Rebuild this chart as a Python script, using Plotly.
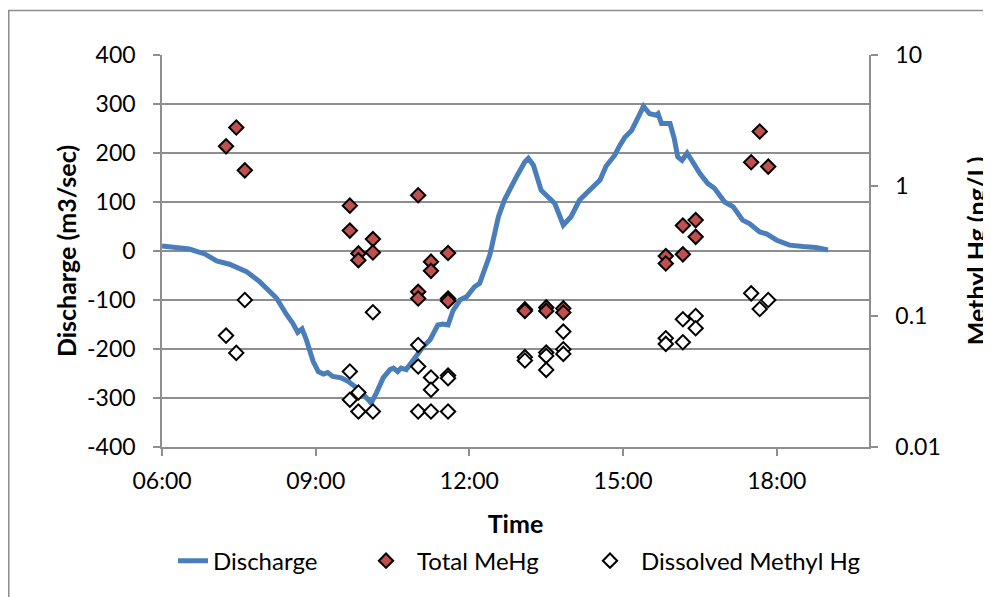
import plotly.graph_objects as go

# ---------------- data ----------------
discharge_time = ["06:00", "06:32", "06:50", "07:04", "07:19", "07:39", "07:54", "08:14", "08:26",
                  "08:33", "08:39", "08:44", "08:49", "08:57", "09:03", "09:09", "09:14", "09:20",
                  "09:30", "09:38", "09:50", "10:05", "10:11", "10:19", "10:27", "10:31", "10:36",
                  "10:40", "10:46", "10:54", "11:06", "11:14", "11:23", "11:29", "11:35", "11:41",
                  "11:49", "11:57", "12:06", "12:12", "12:24", "12:34", "12:41", "12:55", "13:05",
                  "13:09", "13:15", "13:24", "13:34", "13:40", "13:50", "13:59", "14:09", "14:21",
                  "14:33", "14:40", "14:50", "14:56", "15:02", "15:10", "15:16", "15:24", "15:31",
                  "15:39", "15:41", "15:45", "15:55", "16:00", "16:04", "16:09", "16:15", "16:20",
                  "16:30", "16:39", "16:47", "16:59", "17:09", "17:20", "17:28", "17:40", "17:48",
                  "18:00", "18:15", "18:31", "18:46", "19:00"]
discharge = [10, 4, -6, -20, -27, -42, -62, -96, -130,
             -147, -166, -159, -181, -225, -246, -251, -248, -256,
             -259, -266, -282, -310, -290, -259, -242, -239, -246,
             -239, -242, -222, -195, -181, -151, -149, -151, -121,
             -100, -93, -73, -66, -8, 70, 104, 151, 182,
             189, 175, 124, 107, 97, 53, 70, 104, 124,
             145, 173, 195, 215, 232, 246, 266, 295, 280,
             277, 280, 260, 260, 229, 192, 185, 200, 185,
             158, 138, 128, 100, 90, 63, 56, 39, 35,
             22, 12, 9, 7, 2]

total_time = ["07:15", "07:27", "07:37", "09:40", "09:40", "09:50", "09:50", "10:07", "10:07",
              "11:00", "11:00", "11:00", "11:15", "11:15", "11:35", "11:35", "11:35",
              "13:05", "13:05", "13:30", "13:30", "13:50", "13:50",
              "15:50", "15:50", "16:10", "16:10", "16:25", "16:25",
              "17:30", "17:40", "17:50"]
total_mehg = [2.0, 2.79, 1.31, 0.703, 0.453, 0.303, 0.269, 0.390, 0.308,
              0.845, 0.154, 0.137, 0.262, 0.223, 0.305, 0.137, 0.131,
              0.113, 0.110, 0.117, 0.110, 0.115, 0.107,
              0.289, 0.254, 0.496, 0.298, 0.545, 0.406,
              1.51, 2.60, 1.40]

dissolved_time = ["07:15", "07:27", "07:37", "09:40", "09:40", "09:50", "09:50", "10:07", "10:07",
                  "11:00", "11:00", "11:00", "11:15", "11:15", "11:15", "11:35", "11:35", "11:35",
                  "13:05", "13:05", "13:30", "13:30", "13:30", "13:50", "13:50", "13:50",
                  "15:50", "15:50", "16:10", "16:10", "16:25", "16:25",
                  "17:30", "17:40", "17:50"]
dissolved_mehg = [0.0712, 0.0525, 0.1334, 0.0378, 0.0230, 0.0261, 0.0187, 0.1074, 0.0187,
                  0.0604, 0.0413, 0.0187, 0.0340, 0.0274, 0.0187, 0.0352, 0.0336, 0.0187,
                  0.0487, 0.0459, 0.0528, 0.0498, 0.0389, 0.0764, 0.0560, 0.0516,
                  0.0680, 0.0615, 0.0950, 0.0634, 0.1007, 0.0811,
                  0.150, 0.1138, 0.1334]

left_tickvals = [-400, -300, -200, -100, 0, 100, 200, 300, 400]
left_ticktext = ["-400", "-300", "-200", "-100", "0", "100", "200", "300", "400"]
right_tickvals = [0.01, 0.1, 1, 10]
right_ticktext = ["0.01", "0.1", "1", "10"]
x_start, x_end = "06:00", "19:48"

DAY = "2000-01-01 "
def ts(lst):
    return [DAY + t for t in lst]

FONT = "Lato, Carlito, Calibri, sans-serif"
GRID = "#8e8e8e"

# page is offset by the 8px body margin; plot area spans page x 162..869, y 54.5..447.5
ML, MT, PW, PH = 154, 46.5, 707, 393
W, H = 983, 589

fig = go.Figure()
fig.add_trace(go.Scatter(
    x=ts(discharge_time), y=discharge, name="Discharge", mode="lines",
    line=dict(color="#4a7ebb", width=5), yaxis="y", legend="legend"))
fig.add_trace(go.Scatter(
    x=ts(total_time), y=total_mehg, name="Total MeHg", mode="markers",
    marker=dict(symbol="diamond", size=11, color="#c0504d",
                line=dict(color="black", width=2)), yaxis="y2", legend="legend2"))
fig.add_trace(go.Scatter(
    x=ts(dissolved_time), y=dissolved_mehg, name="Dissolved Methyl Hg", mode="markers",
    marker=dict(symbol="diamond", size=11, color="white",
                line=dict(color="black", width=2)), yaxis="y2", legend="legend3"))

LEG_Y = -0.291
def leg(xpage, itemwidth):
    return dict(orientation="h", x=(xpage - 8 - ML) / PW, xanchor="left", y=LEG_Y,
                yanchor="middle", font=dict(size=24, family=FONT, color="black"),
                bgcolor="rgba(0,0,0,0)", itemwidth=itemwidth)

TITLE_FONT = dict(family=FONT, size=25, color="black")

fig.update_layout(
    width=W, height=H,
    margin=dict(l=ML, r=W - ML - PW, t=MT, b=H - MT - PH, autoexpand=False),
    paper_bgcolor="white", plot_bgcolor="white",
    font=dict(family=FONT, size=23, color="black"),
    showlegend=True,
    legend=leg(173, 30),
    legend2=leg(355, 52),
    legend3=leg(579, 52),
    xaxis=dict(type="date", range=[DAY + x_start, DAY + x_end], automargin=False,
               tick0=DAY + "06:00", dtick=3 * 3600 * 1000, tickformat="%H:%M",
               showgrid=False, showline=True, linecolor=GRID, linewidth=1.5,
               ticks="outside", ticklen=7, tickcolor=GRID, tickwidth=1.5,
               ticklabelstandoff=6,
               title=dict(text="<b>Time</b>", standoff=22, font=TITLE_FONT), zeroline=False),
    yaxis=dict(range=[-400, 400], tickvals=left_tickvals, ticktext=left_ticktext,
               showgrid=True, gridcolor=GRID,
               gridwidth=1.5, showline=True, linecolor=GRID, linewidth=1.5, automargin=False,
               ticks="outside", ticklen=7, tickcolor=GRID, tickwidth=1.5,
               ticklabelstandoff=13,
               zeroline=False, title=dict(text="<b>Discharge (m3/sec)</b>", standoff=3,
                                          font=TITLE_FONT)),
    yaxis2=dict(type="log", range=[-2, 1], overlaying="y", side="right", automargin=False,
                tickvals=right_tickvals, ticktext=right_ticktext, showgrid=False,
                showline=True, linecolor=GRID, linewidth=1.5,
                ticks="outside", ticklen=7, tickcolor=GRID, tickwidth=1.5,
                ticklabelstandoff=13,
                zeroline=False, title=dict(text="<b>Methyl Hg (ng/L)</b>", standoff=29,
                                           font=TITLE_FONT)),
    shapes=[dict(type="rect", xref="paper", yref="paper",
                 x0=(0.75 - ML) / PW, x1=1.3, y0=-0.5, y1=1 + (MT - 2) / PH,
                 line=dict(color="#8e8e8e", width=1.5), fillcolor="rgba(0,0,0,0)", layer="below")],
)

fig.write_html("out.html")
